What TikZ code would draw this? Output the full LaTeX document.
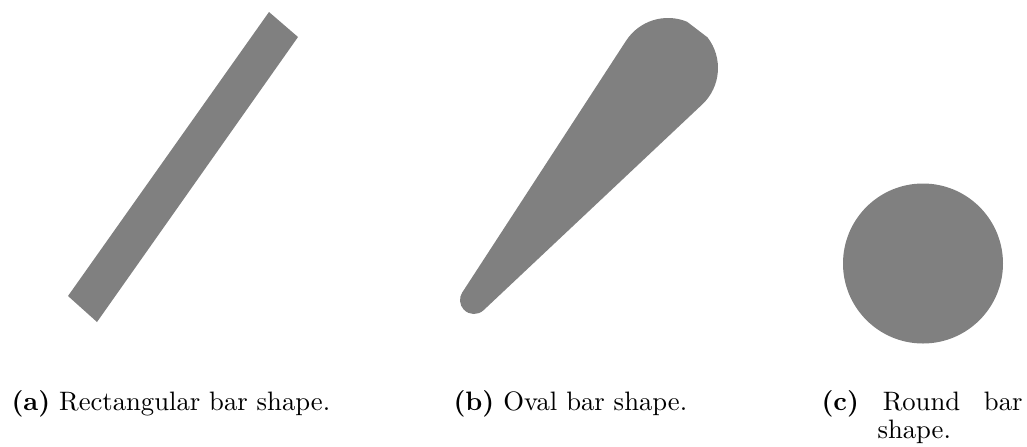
\documentclass[tikz,border=0pt]{standalone}
\usetikzlibrary{positioning,calc}
\definecolor{barfill}{HTML}{808080}

\begin{document}
\begin{tikzpicture}[x=0.375pt,y=0.375pt,
  bar/.style={fill=barfill},
  captext/.style={anchor=base west,inner sep=0pt,font=\fontsize{10}{10.5}\selectfont}]
  \useasboundingbox (0,0) rectangle (1027,446);

  % ===== (a) rectangular bar =====
  \fill[bar] (269,434) -- (298,409) -- (97,124) -- (68,150) -- cycle;

  % ===== (b) oval bar: two circles and their tangents =====
  \coordinate (bigend) at (668,378);
  \coordinate (smallend) at (474,146);
  \fill[bar] (462.3,153.6) -- (626.1,405.3) arc[start angle=146.94,end angle=67.6,radius=50]
    -- ($(bigend)+(37.8:50)$) arc[start angle=37.8,end angle=-46.74,radius=50]
    -- (483.6,135.8) arc[start angle=-46.74,end angle=-213.06,radius=14] -- cycle;

  % ===== (c) round bar =====
  \fill[bar] (923,182.5) circle[radius=80];

  % ===== captions =====
  \node[captext] (capa) at (11,36) {\textbf{(a)} Rectangular bar shape.};
  \node[captext] (capb) at (453,36) {\textbf{(b)} Oval bar shape.};
  \node[captext,text width=75.4pt,align=justify] (capc) at (821,36) {\hangindent=21pt\hangafter=1 \textbf{(c)} Round bar shape.\par};
\end{tikzpicture}
\end{document}
